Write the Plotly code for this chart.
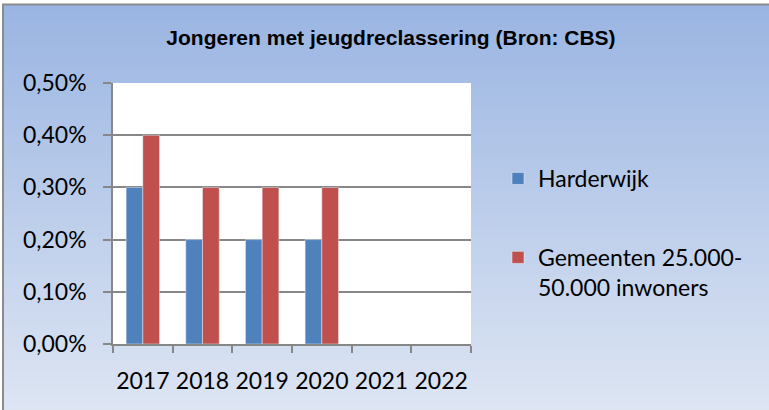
import plotly.graph_objects as go

# Data
years = ["2017", "2018", "2019", "2020", "2021", "2022"]
harderwijk = [0.003, 0.002, 0.002, 0.002, None, None]
gemeenten = [0.004, 0.003, 0.003, 0.003, None, None]
series_names = ["Harderwijk", "Gemeenten 25.000-<br>50.000 inwoners"]
y_ticks = [0, 0.001, 0.002, 0.003, 0.004, 0.005]

# Canvas and plot-area geometry (pixels)
W, H = 769, 410
L, R, T, B = 113, 298, 83, 66
PW, PH = W - L - R, H - T - B

BLUE = "#4F81BD"
RED = "#C0504D"
GRID = "#878787"
TICK_FONT = dict(family="Lato, Calibri, Carlito, sans-serif", size=23, color="#000000")


def px_to_paper_x(px):
    return (px - L) / PW


def px_to_paper_y(py):
    return 1 - (py - T) / PH


def lerp(a, b, t):
    return tuple(round(a[i] + (b[i] - a[i]) * t) for i in range(3))


fig = go.Figure()
fig.add_trace(go.Bar(x=years, y=harderwijk, name=series_names[0], marker_color=BLUE,
                     legendgroup="a"))
fig.add_trace(go.Bar(x=years, y=gemeenten, name=series_names[1], marker_color=RED,
                     legendgroup="b"))

# Vertical gradient background of the chart area, then the white plot area on top
shapes = []
top_col = (154, 181, 226)
bot_col = (221, 229, 243)
y0_px, y1_px = 5, H
n = 135
for i in range(n):
    a = y0_px + (y1_px - y0_px) * i / n
    b = y0_px + (y1_px - y0_px) * (i + 1) / n + 0.6
    c = lerp(top_col, bot_col, i / (n - 1))
    shapes.append(dict(type="rect", xref="paper", yref="paper",
                       x0=px_to_paper_x(3), x1=px_to_paper_x(W + 2),
                       y0=px_to_paper_y(min(b, H)), y1=px_to_paper_y(a),
                       fillcolor="rgb(%d,%d,%d)" % c, line_width=0, layer="below"))
shapes.append(dict(type="rect", xref="paper", yref="paper", x0=0, x1=1, y0=0, y1=1,
                   fillcolor="#FFFFFF", line_width=0, layer="below"))
# Outer frame (left and top edges)
shapes.append(dict(type="path", xref="paper", yref="paper",
                   path="M %f,%f L %f,%f L %f,%f" % (
                       px_to_paper_x(3), px_to_paper_y(H + 2),
                       px_to_paper_x(3), px_to_paper_y(4.5),
                       px_to_paper_x(W + 2), px_to_paper_y(4.5)),
                   line=dict(color="#8C8C8C", width=2), layer="above"))

fig.update_layout(
    width=W, height=H,
    margin=dict(l=L, r=R, t=T, b=B, pad=0, autoexpand=False),
    paper_bgcolor="#FFFFFF",
    plot_bgcolor="#FFFFFF",
    separators=",.",
    barmode="group",
    bargap=0.44,
    bargroupgap=0,
    shapes=shapes,
    title=dict(text="<b>Jongeren met jeugdreclassering (Bron: CBS)</b>",
               font=dict(family="Liberation Sans, Arial, sans-serif", size=21, color="#000000"),
               x=391 / W, xanchor="center", xref="container",
               y=1 - 38 / H, yanchor="middle", yref="container"),
    legend=dict(x=498 / W, xanchor="left", xref="container",
                y=1 - 157 / H, yanchor="top", yref="container",
                font=TICK_FONT, bgcolor="rgba(0,0,0,0)",
                traceorder="grouped", tracegroupgap=46, valign="top"),
    xaxis=dict(type="category", tickson="boundaries", ticks="outside", ticklen=7,
               tickcolor=GRID, tickwidth=1.5, showline=True, linecolor=GRID, linewidth=1.5,
               showgrid=False, tickfont=TICK_FONT, ticklabelstandoff=16,
               tickangle=0, automargin=False),
    yaxis=dict(range=[0, 0.005], tickvals=y_ticks, tickformat=".2%", ticks="outside",
               ticklen=8, tickcolor=GRID, tickwidth=1.5, showline=True, linecolor=GRID,
               linewidth=1.5, showgrid=True, gridcolor=GRID, gridwidth=1.5,
               zeroline=False, tickfont=TICK_FONT, ticklabelstandoff=12, automargin=False),
)

fig.write_html("out.html")
